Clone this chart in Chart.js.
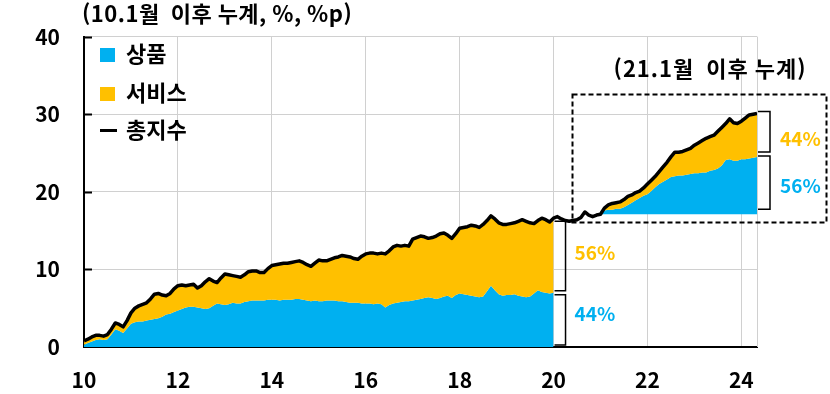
<!DOCTYPE html>
<html lang="ko">
<head>
<meta charset="utf-8">
<title>10.1월 이후 누계</title>
<script src="https://cdn.jsdelivr.net/npm/chart.js@4.4.1/dist/chart.umd.min.js"></script>
<style>
  html, body { margin: 0; padding: 0; background: #fff; }
  #wrap { width: 830px; height: 394px; }
</style>
</head>
<body>
<div id="wrap"><canvas id="cpiChart" width="830" height="394"></canvas></div>
<script>
// monthly, 2010.1 ~ 2024.5 (%, cumulative since 10.1)
const startYear = 10;
const totalIndex = [
  0.8, 1.0, 1.3, 1.5, 1.5, 1.4, 1.6, 2.3, 3.1, 2.9, 2.6, 3.4,        // 2010
  4.4, 5.0, 5.3, 5.5, 5.7, 6.2, 6.8, 6.9, 6.7, 6.6, 6.9, 7.5,        // 2011
  7.9, 8.0, 7.9, 8.0, 8.1, 7.6, 7.9, 8.4, 8.8, 8.5, 8.3, 8.9,        // 2012
  9.4, 9.3, 9.2, 9.1, 9.0, 9.3, 9.7, 9.8, 9.8, 9.6, 9.6, 10.1,       // 2013
  10.5, 10.6, 10.7, 10.8, 10.8, 10.9, 11.0, 11.1, 10.9, 10.6, 10.4, 10.8, // 2014
  11.2, 11.1, 11.1, 11.3, 11.5, 11.6, 11.8, 11.7, 11.6, 11.4, 11.3, 11.7, // 2015
  12.0, 12.1, 12.1, 12.0, 12.1, 12.0, 12.4, 12.9, 13.1, 13.0, 13.1, 13.0, // 2016
  13.9, 14.1, 14.3, 14.2, 14.0, 14.1, 14.3, 14.6, 14.7, 14.4, 14.0, 14.6, // 2017
  15.3, 15.4, 15.5, 15.7, 15.6, 15.4, 15.8, 16.3, 16.9, 16.5, 16.0, 15.8, // 2018
  15.8, 15.9, 16.0, 16.2, 16.4, 16.2, 16.0, 15.9, 16.3, 16.6, 16.4, 16.1, // 2019
  16.6, 16.8, 16.5, 16.3, 16.2, 16.3, 16.4, 16.7, 17.4, 17.0, 16.8, 17.0, // 2020
  17.1, 17.9, 18.3, 18.5, 18.6, 18.7, 19.0, 19.4, 19.6, 19.9, 20.1, 20.5, // 2021
  21.0, 21.5, 22.0, 22.6, 23.2, 23.8, 24.5, 25.1, 25.1, 25.2, 25.4, 25.6, // 2022
  26.0, 26.3, 26.6, 26.9, 27.1, 27.3, 27.8, 28.3, 28.8, 29.4, 28.9, 28.8, // 2023
  29.1, 29.5, 29.9, 30.0, 30.1                                             // 2024
];

// goods contribution, 2010.1 ~ 2020.1 (%p)
const goodsTo20 = [
  0.3, 0.5, 0.7, 0.9, 1.0, 0.9, 1.0, 1.6, 2.3, 2.1, 1.8, 2.4,
  3.0, 3.2, 3.3, 3.3, 3.4, 3.5, 3.6, 3.7, 3.9, 4.2, 4.3, 4.5,
  4.7, 4.9, 5.1, 5.2, 5.2, 5.1, 5.0, 4.9, 5.0, 5.3, 5.6, 5.5,
  5.4, 5.5, 5.7, 5.6, 5.6, 5.8, 5.9, 6.0, 6.0, 6.0, 6.0, 6.1,
  6.1, 6.1, 6.0, 6.1, 6.1, 6.1, 6.2, 6.2, 6.1, 6.0, 5.9, 6.0,
  5.9, 5.9, 6.0, 6.0, 6.0, 5.9, 5.9, 5.8, 5.7, 5.7, 5.7, 5.6,
  5.6, 5.6, 5.5, 5.6, 5.5, 5.1, 5.4, 5.6, 5.7, 5.8, 5.9, 5.9,
  6.0, 6.1, 6.2, 6.3, 6.4, 6.3, 6.2, 6.3, 6.5, 6.6, 6.3, 6.7,
  6.9, 6.8, 6.7, 6.6, 6.5, 6.4, 6.5, 7.2, 7.9, 7.3, 6.8, 6.6,
  6.7, 6.7, 6.8, 6.6, 6.5, 6.4, 6.5, 6.9, 7.3, 7.1, 7.0, 6.9,
  7.0
];

// goods contribution since 21.1, 2021.1 ~ 2024.5 (%p)
const goodsFrom21 = [
  0.0, 0.5, 0.6, 0.6, 0.7, 0.7, 0.9, 1.2, 1.5, 1.8, 2.1, 2.4,
  2.6, 3.0, 3.5, 3.9, 4.2, 4.5, 4.8, 4.9, 5.0, 5.0, 5.1, 5.2,
  5.3, 5.3, 5.4, 5.4, 5.6, 5.7, 5.9, 6.3, 7.0, 7.1, 6.9, 6.9,
  7.1, 7.1, 7.2, 7.3, 7.4
];

const seriesNames = ['상품', '서비스', '총지수'];
const xTicks = [10, 12, 14, 16, 18, 20, 22, 24];
const yTicks = [0, 10, 20, 30, 40];
const shares1 = ['56%', '44%']; // 서비스, 상품 (10.1~20.1)
const shares2 = ['44%', '56%']; // 서비스, 상품 (21.1~)

const BLUE = '#00B0F0';
const GOLD = '#FFC000';
const FONT = '"Noto Sans CJK KR", "Noto Sans", sans-serif';

const monthX = i => startYear + i / 12;
const idx21 = 11 * 12;                 // 2021.1
const base21 = totalIndex[idx21];      // level at 21.1

const totalPts = totalIndex.map((v, i) => ({ x: monthX(i), y: v }));
const svc1Pts = totalIndex.slice(0, goodsTo20.length).map((v, i) => ({ x: monthX(i), y: v }));
const goods1Pts = goodsTo20.map((v, i) => ({ x: monthX(i), y: v }));
const svc2Pts = totalIndex.slice(idx21).map((v, i) => ({ x: monthX(idx21 + i), y: v }));
const goods2Pts = goodsFrom21.map((v, i) => ({ x: monthX(idx21 + i), y: base21 + v }));
const base2Pts = goodsFrom21.map((v, i) => ({ x: monthX(idx21 + i), y: base21 }));

const noLine = { borderWidth: 0, borderColor: 'rgba(0,0,0,0)', pointRadius: 0 };

const overlay = {
  id: 'overlay',
  afterDraw(chart) {
    const { ctx, chartArea: a, scales: { x, y } } = chart;
    ctx.save();

    // right frame line + y tick marks
    ctx.strokeStyle = '#d0d0d0';
    ctx.lineWidth = 1;
    ctx.beginPath();
    ctx.moveTo(a.right + 0.5, a.top);
    ctx.lineTo(a.right + 0.5, a.bottom);
    ctx.stroke();
    ctx.strokeStyle = '#000';
    ctx.lineWidth = 2;
    yTicks.slice(1).forEach(v => {
      const py = Math.round(y.getPixelForValue(v)) + 0.5;
      ctx.beginPath();
      ctx.moveTo(a.left, py);
      ctx.lineTo(a.left + 8, py);
      ctx.stroke();
    });

    // unit title
    ctx.fillStyle = '#000';
    ctx.textBaseline = 'middle';
    ctx.textAlign = 'left';
    ctx.font = 'bold 22px ' + FONT;
    ctx.letterSpacing = '0.5px';
    ctx.fillText('(10.1월  이후 누계, %, %p)', 82, 14);

    // legend
    ctx.letterSpacing = '0px';
    ctx.font = 'bold 22px ' + FONT;
    ctx.fillStyle = BLUE;
    ctx.fillRect(100, 48, 15, 14);
    ctx.fillStyle = GOLD;
    ctx.fillRect(100, 87, 15, 14);
    ctx.fillStyle = '#000';
    ctx.fillRect(100, 129, 17, 3);
    ctx.fillText(seriesNames[0], 126, 54);
    ctx.fillText(seriesNames[1], 126, 93);
    ctx.fillText(seriesNames[2], 126, 130);

    // brackets
    const bracket = (xl, y1, y2, w) => {
      ctx.strokeStyle = '#000';
      ctx.lineWidth = 1.5;
      ctx.beginPath();
      ctx.moveTo(xl, y1);
      ctx.lineTo(xl + w, y1);
      ctx.lineTo(xl + w, y2);
      ctx.lineTo(xl, y2);
      ctx.stroke();
    };
    ctx.font = 'bold 19px ' + FONT;

    // 10.1 ~ 20.1 split
    const i1 = goodsTo20.length - 1;
    const bx1 = x.getPixelForValue(monthX(i1)) + 1;
    const t1 = y.getPixelForValue(totalIndex[i1]);
    const g1 = y.getPixelForValue(goodsTo20[i1]);
    const z1 = y.getPixelForValue(0);
    bracket(bx1, t1 + 3, g1 - 2, 11);
    bracket(bx1, g1 + 2, z1 - 2, 11);
    ctx.fillStyle = GOLD;
    ctx.fillText(shares1[0], bx1 + 20, (t1 + g1) / 2 - 3);
    ctx.fillStyle = BLUE;
    ctx.fillText(shares1[1], bx1 + 20, (g1 + z1) / 2 - 6);

    // 21.1 ~ split
    const i2 = totalIndex.length - 1;
    const bx2 = x.getPixelForValue(monthX(i2)) + 1;
    const t2 = y.getPixelForValue(totalIndex[i2]);
    const g2 = y.getPixelForValue(base21 + goodsFrom21[goodsFrom21.length - 1]);
    const z2 = y.getPixelForValue(base21);
    bracket(bx2, t2 - 2, g2 - 5, 12);
    bracket(bx2, g2 - 1, z2 - 5, 12);
    ctx.fillStyle = GOLD;
    ctx.fillText(shares2[0], bx2 + 22, (t2 + g2) / 2 + 4);
    ctx.fillStyle = BLUE;
    ctx.fillText(shares2[1], bx2 + 22, (g2 + z2) / 2);

    // dashed box for 21.1 ~
    const left = Math.round(x.getPixelForValue(20.4)) + 0.5;
    const top = Math.round(y.getPixelForValue(32.6)) + 0.5;
    const bottom = Math.round(y.getPixelForValue(16.05)) + 0.5;
    const right = chart.width - 3.5;
    ctx.strokeStyle = '#000';
    ctx.lineWidth = 2;
    ctx.setLineDash([5, 3]);
    ctx.strokeRect(left, top, right - left, bottom - top);
    ctx.setLineDash([]);

    ctx.fillStyle = '#000';
    ctx.font = 'bold 22px ' + FONT;
    ctx.letterSpacing = '1px';
    ctx.textAlign = 'right';
    ctx.fillText('(21.1월  이후 누계)', right - 20, top - 26);
    ctx.letterSpacing = '0px';

    ctx.restore();
  }
};

const ctx = document.getElementById('cpiChart').getContext('2d');
const cpiChart = new Chart(ctx, {
  type: 'line',
  data: {
    datasets: [
      { label: seriesNames[2], data: totalPts, borderColor: '#000', borderWidth: 3.5,
        pointRadius: 0, fill: false, tension: 0, borderJoinStyle: 'round' },
      { label: seriesNames[1], data: svc1Pts, ...noLine, fill: 2, backgroundColor: GOLD },
      { label: seriesNames[0], data: goods1Pts, ...noLine, fill: 'origin', backgroundColor: BLUE },
      { label: seriesNames[1], data: svc2Pts, ...noLine, fill: 4, backgroundColor: GOLD },
      { label: seriesNames[0], data: goods2Pts, ...noLine, fill: 5, backgroundColor: BLUE },
      { label: 'base', data: base2Pts, ...noLine, fill: false }
    ]
  },
  options: {
    responsive: false,
    animation: false,
    devicePixelRatio: 1,
    layout: { padding: { top: 33, right: 73, bottom: 0, left: 0 } },
    plugins: { legend: { display: false }, tooltip: { enabled: false } },
    scales: {
      x: {
        type: 'linear',
        min: startYear,
        max: monthX(totalIndex.length - 1),
        afterFit: s => { s.height = 47; },
        afterBuildTicks: s => { s.ticks = xTicks.map(v => ({ value: v })); },
        ticks: { includeBounds: false, padding: 20, color: '#000',
                 font: { family: FONT, size: 21, weight: 'bold' } },
        grid: { color: '#d0d0d0', lineWidth: 1, drawTicks: false },
        border: { color: '#000', width: 2 }
      },
      y: {
        min: 0,
        max: 40,
        afterFit: s => { s.width = 84; },
        afterBuildTicks: s => { s.ticks = yTicks.map(v => ({ value: v })); },
        ticks: { padding: 24, color: '#000',
                 font: { family: FONT, size: 21, weight: 'bold' } },
        grid: { color: '#d0d0d0', lineWidth: 1, drawTicks: false },
        border: { color: '#000', width: 2 }
      }
    }
  },
  plugins: [overlay]
});
</script>
</body>
</html>
